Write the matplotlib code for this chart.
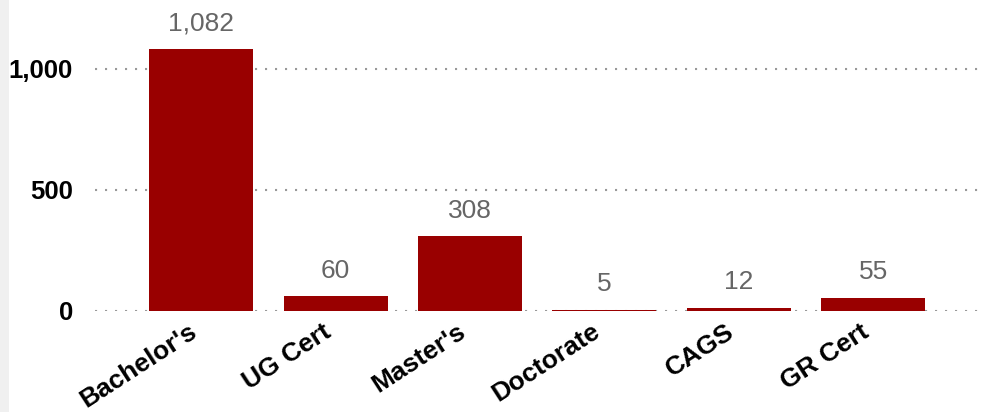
import matplotlib.pyplot as plt
import matplotlib.patches as mpatches
from matplotlib.transforms import ScaledTranslation

categories = ["Bachelor's", "UG Cert", "Master's", "Doctorate", "CAGS", "GR Cert"]
counts = [1082, 60, 308, 5, 12, 55]
yticks = [0, 500, 1000]

plt.rcParams['font.family'] = ['Liberation Sans', 'DejaVu Sans']

fig = plt.figure(figsize=(9.82, 4.12), dpi=100)
# light strip on the left edge
fig.patches.append(mpatches.Rectangle((0, 0), 9 / 982, 1, transform=fig.transFigure,
                                      facecolor='#f0f0f0', edgecolor='none', zorder=0))

ax = fig.add_axes([95 / 982, (412 - 311) / 412, 887 / 982, 311 / 412])
x = list(range(len(categories)))
ax.bar(x, counts, width=0.773, color='#990000', zorder=3)

for xi, v in zip(x, counts):
    ax.annotate(f'{v:,}', (xi, v), xytext=(0, 10), textcoords='offset points',
                ha='center', va='bottom', fontsize=19, color='#666666')

ax.set_xlim(-0.79, 5.81)
ax.set_ylim(0, 1285)
ax.set_yticks(yticks)
ax.set_yticklabels([f'{t:,}' for t in yticks], fontsize=18.5, fontweight='bold')
ax.set_xticks(x)
ax.set_xticklabels(categories, fontsize=19, fontweight='bold', rotation=33,
                   ha='right', rotation_mode='anchor')
ax.tick_params(axis='both', length=0)
ax.tick_params(axis='y', pad=16)
ax.tick_params(axis='x', pad=6)

# nudge the slanted labels left
for lbl in ax.get_xticklabels():
    lbl.set_transform(lbl.get_transform() + ScaledTranslation(-0.13, 0, fig.dpi_scale_trans))

for t in yticks:
    ax.axhline(t, color='#999999', linestyle=(0, (1, 3.8)), linewidth=1.5, zorder=1)

for s in ax.spines.values():
    s.set_visible(False)

fig.savefig('out.png', dpi=100)
